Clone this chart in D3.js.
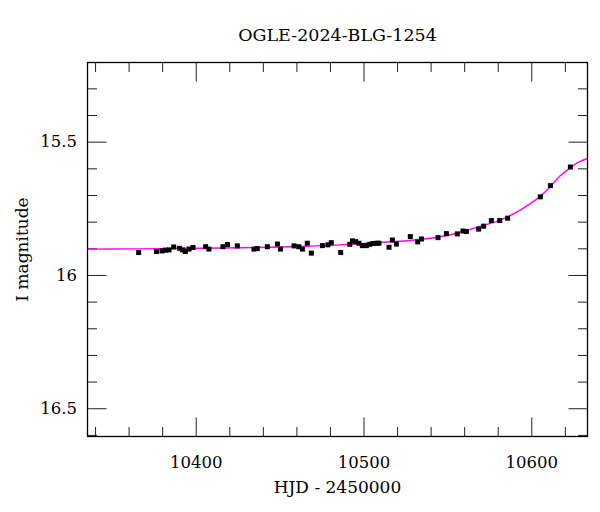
<!DOCTYPE html>
<html>
<head>
<meta charset="utf-8">
<script src="https://cdn.jsdelivr.net/npm/d3@7"></script>
<style>
  html, body { margin: 0; padding: 0; background: #fff; }
  svg { display: block; }
  text { font-family: "DejaVu Serif", "Liberation Serif", serif; fill: #000; }
</style>
</head>
<body>
<div id="chart"></div>
<script>
// ---- data ----
const title = "OGLE-2024-BLG-1254";
const xLabel = "HJD - 2450000";
const yLabel = "I magnitude";

const obsDays = [10366.0, 10376.6, 10379.9, 10381.9, 10384.1, 10386.9, 10390.4, 10392.1, 10393.8, 10396.0,
  10398.4, 10405.9, 10407.9, 10416.2, 10418.9, 10424.8, 10434.7, 10436.7, 10442.7, 10448.7,
  10450.5, 10458.6, 10461.4, 10463.6, 10466.5, 10468.9, 10475.5, 10478.8, 10480.8, 10486.4,
  10491.8, 10493.4, 10495.3, 10497.3, 10499.3, 10501.7, 10503.7, 10505.6, 10507.7, 10509.2,
  10515.2, 10517.2, 10519.6, 10527.9, 10532.3, 10534.5, 10544.4, 10549.4, 10555.9, 10559.3,
  10561.3, 10568.6, 10571.6, 10576.2, 10581.2, 10585.9, 10605.4, 10611.4, 10623.3];
const obsMags = [15.916, 15.912, 15.910, 15.907, 15.906, 15.895, 15.900, 15.906, 15.912, 15.903,
  15.897, 15.894, 15.903, 15.894, 15.886, 15.891, 15.903, 15.901, 15.894, 15.884,
  15.903, 15.891, 15.894, 15.903, 15.881, 15.918, 15.890, 15.887, 15.879, 15.916,
  15.885, 15.872, 15.875, 15.881, 15.890, 15.890, 15.885, 15.882, 15.881, 15.881,
  15.896, 15.869, 15.884, 15.856, 15.876, 15.865, 15.860, 15.845, 15.846, 15.835,
  15.837, 15.828, 15.817, 15.796, 15.796, 15.787, 15.707, 15.665, 15.595];

const modelDays = [10335.5, 10366.6, 10402.4, 10438.2, 10462.0, 10485.8, 10509.6, 10533.5, 10551.3,
  10560.3, 10569.2, 10581.1, 10590.0, 10599.0, 10605.0, 10610.9, 10616.8, 10622.8, 10628.8, 10633.5];
const modelMags = [15.903, 15.902, 15.900, 15.897, 15.893, 15.887, 15.878, 15.867, 15.850,
  15.835, 15.818, 15.795, 15.769, 15.734, 15.707, 15.672, 15.631, 15.600, 15.575, 15.563];

const xMajorTicks = [10400, 10500, 10600];
const xMinorTicks = [10340, 10360, 10380, 10420, 10440, 10460, 10480, 10520, 10540, 10560, 10580, 10620];
const yMajorTicks = [15.5, 16, 16.5];
const yMinorTicks = [15.3, 15.4, 15.6, 15.7, 15.8, 15.9, 16.1, 16.2, 16.3, 16.4, 16.6];
const xDomain = [10335.5, 10633.5];
const yDomain = [15.203, 16.606];

// ---- layout ----
const W = 600, H = 512;
const L = 87.5, R = 587.5, T = 62.5, B = 436.5;
const majorLen = 19, minorLen = 9.5;

const svg = d3.select("#chart").append("svg").attr("width", W).attr("height", H);

const x = d3.scaleLinear().domain(xDomain).range([L, R]);
const y = d3.scaleLinear().domain(yDomain).range([T, B]);

function styleAxis(g) {
  g.select(".domain").remove();
  g.selectAll(".tick line").attr("stroke", "#222").attr("stroke-width", 1);
  g.selectAll(".tick text").style("font-size", "16.5px").style("font-family", '"DejaVu Serif", serif');
}

// bottom axis
svg.append("g").attr("transform", `translate(0,${B})`)
  .call(d3.axisBottom(x).tickValues(xMajorTicks).tickSizeInner(-majorLen).tickSizeOuter(0).tickPadding(20).tickFormat(d3.format("d")))
  .call(styleAxis);
svg.append("g").attr("transform", `translate(0,${B})`)
  .call(d3.axisBottom(x).tickValues(xMinorTicks).tickSizeInner(-minorLen).tickSizeOuter(0).tickFormat(""))
  .call(styleAxis);
// top axis
svg.append("g").attr("transform", `translate(0,${T})`)
  .call(d3.axisTop(x).tickValues(xMajorTicks).tickSizeInner(-majorLen).tickSizeOuter(0).tickFormat(""))
  .call(styleAxis);
svg.append("g").attr("transform", `translate(0,${T})`)
  .call(d3.axisTop(x).tickValues(xMinorTicks).tickSizeInner(-minorLen).tickSizeOuter(0).tickFormat(""))
  .call(styleAxis);
// left axis
svg.append("g").attr("transform", `translate(${L},0)`)
  .call(d3.axisLeft(y).tickValues(yMajorTicks).tickSizeInner(-majorLen).tickSizeOuter(0).tickPadding(10.5).tickFormat(d3.format("")))
  .call(styleAxis);
svg.append("g").attr("transform", `translate(${L},0)`)
  .call(d3.axisLeft(y).tickValues(yMinorTicks).tickSizeInner(-minorLen).tickSizeOuter(0).tickFormat(""))
  .call(styleAxis);
// right axis
svg.append("g").attr("transform", `translate(${R},0)`)
  .call(d3.axisRight(y).tickValues(yMajorTicks).tickSizeInner(-majorLen).tickSizeOuter(0).tickFormat(""))
  .call(styleAxis);
svg.append("g").attr("transform", `translate(${R},0)`)
  .call(d3.axisRight(y).tickValues(yMinorTicks).tickSizeInner(-minorLen).tickSizeOuter(0).tickFormat(""))
  .call(styleAxis);

// clip
svg.append("clipPath").attr("id", "clip").append("rect")
  .attr("x", L).attr("y", T).attr("width", R - L).attr("height", B - T);

// model curve
const model = modelDays.map((d, i) => [d, modelMags[i]]);
svg.append("path")
  .datum(model)
  .attr("clip-path", "url(#clip)")
  .attr("fill", "none")
  .attr("stroke", "#ff00ff")
  .attr("stroke-width", 1.4)
  .attr("d", d3.line().x(d => x(d[0])).y(d => y(d[1])).curve(d3.curveMonotoneX));

// observations
const obs = obsDays.map((d, i) => [d, obsMags[i]]);
const ms = 5;
svg.append("g").attr("clip-path", "url(#clip)")
  .selectAll("rect").data(obs).join("rect")
  .attr("x", d => x(d[0]) - ms / 2)
  .attr("y", d => y(d[1]) - ms / 2)
  .attr("width", ms).attr("height", ms)
  .attr("fill", "#000");

// frame
svg.append("rect")
  .attr("x", L).attr("y", T).attr("width", R - L).attr("height", B - T)
  .attr("fill", "none").attr("stroke", "#000").attr("stroke-width", 1.3);

// title and labels
svg.append("text").attr("x", (L + R) / 2).attr("y", 41)
  .attr("text-anchor", "middle").style("font-size", "17.5px").text(title);
svg.append("text").attr("x", (L + R) / 2).attr("y", 493)
  .attr("text-anchor", "middle").style("font-size", "17px").text(xLabel);
svg.append("text").attr("transform", `translate(28,${(T + B) / 2}) rotate(-90)`)
  .attr("text-anchor", "middle").style("font-size", "17px").text(yLabel);
</script>
</body>
</html>
